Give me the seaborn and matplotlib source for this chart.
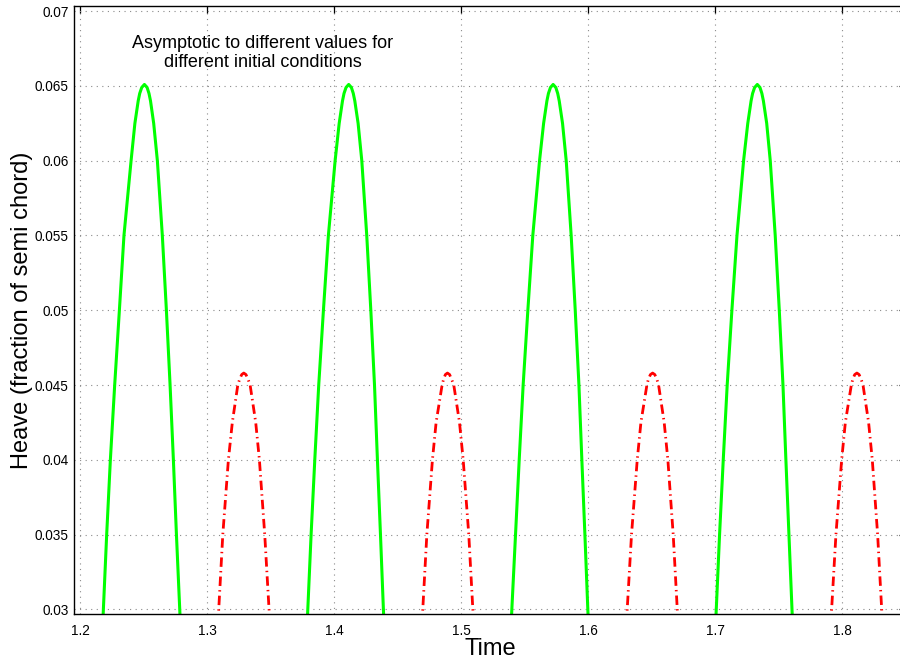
import matplotlib
matplotlib.use("Agg")
import matplotlib.pyplot as plt
import seaborn as sns
import pandas as pd

# ---------------- data ----------------
# Green (solid) series: four arches, time / heave pairs
g1_time = [1.2179, 1.2184, 1.2210, 1.2239, 1.2273, 1.2310, 1.2346, 1.2402, 1.2432, 1.2458, 1.2470, 1.2486, 1.2507,
           1.2528, 1.2543, 1.2555, 1.2580, 1.2609, 1.2648, 1.2680, 1.2709, 1.2735, 1.2759, 1.2785, 1.2790]
g2_time = [1.3788, 1.3793, 1.3819, 1.3848, 1.3879, 1.3916, 1.3955, 1.4008, 1.4040, 1.4066, 1.4078, 1.4094, 1.4115,
           1.4136, 1.4151, 1.4163, 1.4189, 1.4218, 1.4257, 1.4289, 1.4318, 1.4341, 1.4365, 1.4388, 1.4393]
g3_time = [1.5394, 1.5399, 1.5428, 1.5457, 1.5488, 1.5525, 1.5564, 1.5617, 1.5649, 1.5675, 1.5687, 1.5703, 1.5724,
           1.5745, 1.5760, 1.5772, 1.5798, 1.5827, 1.5866, 1.5898, 1.5927, 1.5950, 1.5974, 1.5997, 1.6002]
g4_time = [1.7003, 1.7008, 1.7034, 1.7063, 1.7094, 1.7131, 1.7171, 1.7223, 1.7256, 1.7282, 1.7294, 1.7310, 1.7331,
           1.7352, 1.7367, 1.7379, 1.7405, 1.7433, 1.7472, 1.7504, 1.7533, 1.7556, 1.7580, 1.7604, 1.7609]
g_heave = [0.0290, 0.0300, 0.0350, 0.0400, 0.0450, 0.0500, 0.0550, 0.0600, 0.0625, 0.0640, 0.0645, 0.0649, 0.0651,
           0.0649, 0.0645, 0.0640, 0.0625, 0.0600, 0.0550, 0.0500, 0.0450, 0.0400, 0.0350, 0.0300, 0.0290]

# Red (dash-dot) series: four arches
r1_time = [1.3085, 1.3092, 1.3124, 1.3168, 1.3199, 1.3242, 1.3257, 1.3273, 1.3289,
           1.3306, 1.3322, 1.3339, 1.3383, 1.3412, 1.3454, 1.3488, 1.3495]
r2_time = [1.4691, 1.4698, 1.4730, 1.4774, 1.4803, 1.4850, 1.4862, 1.4876, 1.4892,
           1.4909, 1.4924, 1.4942, 1.4987, 1.5016, 1.5060, 1.5092, 1.5099]
r3_time = [1.6300, 1.6307, 1.6341, 1.6386, 1.6415, 1.6462, 1.6474, 1.6490, 1.6507,
           1.6524, 1.6540, 1.6554, 1.6598, 1.6627, 1.6669, 1.6701, 1.6708]
r4_time = [1.7909, 1.7916, 1.7950, 1.7995, 1.8024, 1.8071, 1.8083, 1.8098, 1.8115,
           1.8132, 1.8148, 1.8163, 1.8207, 1.8236, 1.8278, 1.8310, 1.8317]
r_heave = [0.0290, 0.0300, 0.0350, 0.0400, 0.0425, 0.0450, 0.0454, 0.0457, 0.0458,
           0.0457, 0.0454, 0.0450, 0.0425, 0.0400, 0.0350, 0.0300, 0.0290]

x_ticks = [1.2, 1.3, 1.4, 1.5, 1.6, 1.7, 1.8]
x_tick_labels = ["1.2", "1.3", "1.4", "1.5", "1.6", "1.7", "1.8"]
y_ticks = [0.03, 0.035, 0.04, 0.045, 0.05, 0.055, 0.06, 0.065, 0.07]
y_tick_labels = ["0.03", "0.035", "0.04", "0.045", "0.05", "0.055", "0.06", "0.065", "0.07"]

annotation = "Asymptotic to different values for\ndifferent initial conditions"
x_label = "Time"
y_label = "Heave (fraction of semi chord)"

# ---------------- build tables ----------------
green_df = pd.concat([
    pd.DataFrame({"time": t, "heave": g_heave, "arch": i})
    for i, t in enumerate([g1_time, g2_time, g3_time, g4_time])
], ignore_index=True)
red_df = pd.concat([
    pd.DataFrame({"time": t, "heave": r_heave, "arch": i})
    for i, t in enumerate([r1_time, r2_time, r3_time, r4_time])
], ignore_index=True)

# ---------------- plotting ----------------
sns.set_theme(style="white")
plt.rcParams["font.family"] = ["Liberation Sans", "DejaVu Sans"]

fig = plt.figure(figsize=(9.0, 6.61), dpi=100)
ax = fig.add_axes([74 / 900, 47 / 661, (906 - 74) / 900, (655 - 47) / 661])

ax.grid(True, color="#8a8a8a", linestyle=(0, (1, 4)), linewidth=0.8)
ax.set_axisbelow(True)

sns.lineplot(data=green_df, x="time", y="heave", units="arch", estimator=None, sort=False,
             color="#00ff00", linewidth=2.2, ax=ax, legend=False)
sns.lineplot(data=red_df, x="time", y="heave", units="arch", estimator=None, sort=False,
             color="#ff0000", linewidth=2.0, linestyle=(0, (3.4, 1.5, 0.5, 1.5)), ax=ax, legend=False)

ax.set_xticks(x_ticks)
ax.set_xticklabels(x_tick_labels)
ax.set_yticks(y_ticks)
ax.set_yticklabels(y_tick_labels)

px_per_x = 1270.5
ax.set_xlim(1.2 - 6 / px_per_x, 1.2 + (906 - 80) / px_per_x)
ax.set_ylim(0.03 - 4.7 / 14952, 0.07 + 5.2 / 14952)

ax.tick_params(axis="both", direction="in", length=5, width=0.9, color="black",
               labelsize=9.8, labelcolor="black", top=True, right=True, pad=4)
ax.tick_params(axis="x", pad=7)

for s in ax.spines.values():
    s.set_visible(True)
    s.set_color("black")
    s.set_linewidth(1.0)

ax.set_xlabel(x_label, fontsize=17, color="black", labelpad=0)
ax.set_ylabel(y_label, fontsize=17, color="black", labelpad=1)

ax.text(1.344, 0.06720, annotation, ha="center", va="center", fontsize=13,
        color="black", linespacing=1.1)

fig.savefig("out.png", dpi=100)
